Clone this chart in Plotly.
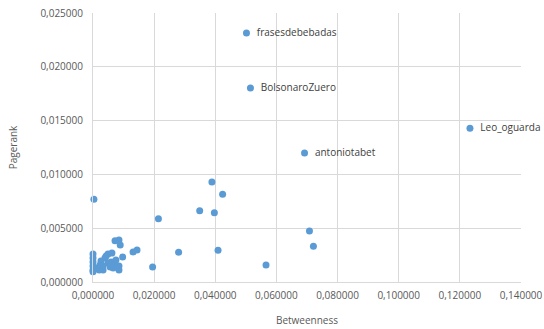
import plotly.graph_objects as go

# Betweenness vs Pagerank per account
betweenness = [
    0.0502, 0.0515, 0.0692, 0.1233,
    0.0003, 0.0389, 0.0424, 0.0349, 0.0397, 0.0214, 0.0280, 0.0409,
    0.0195, 0.0566, 0.0708, 0.0721,
    0.0000, 0.0000, 0.0000, 0.0000, 0.0000, 0.0000, 0.0003,
    0.0013, 0.0020, 0.0023, 0.0026, 0.0033, 0.0033, 0.0039, 0.0043,
    0.0049, 0.0049, 0.0056, 0.0059, 0.0062, 0.0066, 0.0069, 0.0075,
    0.0072, 0.0085, 0.0089, 0.0085, 0.0085, 0.0097, 0.0131, 0.0144,
]
pagerank = [
    0.02313, 0.01802, 0.01198, 0.01430,
    0.00770, 0.00929, 0.00815, 0.00662, 0.00644, 0.00588, 0.00276, 0.00294,
    0.00139, 0.00158, 0.00474, 0.00332,
    0.00260, 0.00223, 0.00186, 0.00149, 0.00111, 0.00095, 0.00130,
    0.00130, 0.00111, 0.00158, 0.00195, 0.00149, 0.00111, 0.00223, 0.00242,
    0.00260, 0.00177, 0.00139, 0.00186, 0.00269, 0.00130, 0.00158, 0.00204,
    0.00384, 0.00390, 0.00344, 0.00149, 0.00111, 0.00232, 0.00279, 0.00297,
]
accounts = ["frasesdebebadas", "BolsonaroZuero", "antoniotabet", "Leo_oguarda"]
labels = ["\u2002" + a for a in accounts] + [""] * (len(betweenness) - len(accounts))

grey = "#595959"
grid = "#D9D9D9"

fig = go.Figure(
    go.Scatter(
        x=betweenness,
        y=pagerank,
        mode="markers+text",
        text=labels,
        textposition="middle right",
        textfont=dict(family="Open Sans, sans-serif", size=10, color="#404040"),
        marker=dict(color="#5B9BD5", size=7),
        cliponaxis=False,
        hoverinfo="x+y",
    )
)

fig.update_layout(
    width=544,
    height=329,
    margin=dict(l=93, r=23, t=13, b=47),
    paper_bgcolor="white",
    plot_bgcolor="white",
    separators=",.",
    showlegend=False,
    font=dict(family="Open Sans, sans-serif", size=10, color=grey),
)
fig.update_xaxes(
    range=[0, 0.14],
    dtick=0.02,
    tickformat=".6f",
    showgrid=True,
    gridcolor=grid,
    gridwidth=1,
    zeroline=False,
    showline=True,
    linecolor=grid,
    ticks="",
    ticklabelstandoff=4,
    automargin=False,
    tickfont=dict(size=10, color=grey),
    title=dict(text="Betweenness", font=dict(size=10, color=grey), standoff=15),
)
fig.update_yaxes(
    range=[0, 0.025],
    dtick=0.005,
    tickformat=".6f",
    showgrid=True,
    gridcolor=grid,
    gridwidth=1,
    zeroline=False,
    showline=True,
    linecolor=grid,
    ticks="",
    ticklabelstandoff=7,
    automargin=False,
    tickfont=dict(size=10, color=grey),
    title=dict(text="Pagerank", font=dict(size=10, color=grey), standoff=20),
)

fig.write_html("out.html")
